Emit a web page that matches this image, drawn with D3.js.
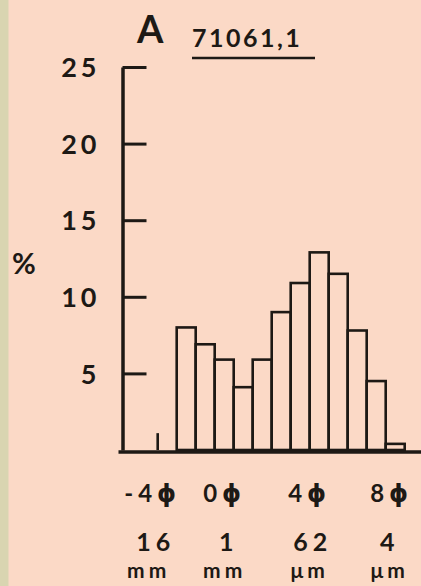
<!DOCTYPE html>
<html>
<head>
<meta charset="utf-8">
<script src="https://cdn.jsdelivr.net/npm/d3@7/dist/d3.min.js"></script>
<style>
  html, body { margin: 0; padding: 0; background: #fbd9c6; }
  svg { display: block; }
  text { font-family: Lato, "DejaVu Sans", sans-serif; fill: #1d1915; }
</style>
</head>
<body>
<svg id="chart" width="421" height="586"></svg>
<script>
// Grain-size histogram, sample 71061,1 (percent per 1-phi class)
const binStartPhi = [-3, -2, -1, 0, 1, 2, 3, 4, 5, 6, 7, 8];
const percentValues = [8, 6.9, 5.9, 4.1, 5.9, 9, 10.9, 12.9, 11.5, 7.8, 4.5, 0.4];
const tracePhi = [-4];
const traceValues = [1.1];
const yTickValues = [5, 10, 15, 20, 25];
const phiTicks = [-4, 0, 4, 8];
const phiNumbers = ["-4", "0", "4", "8"];
const phiSymbol = "ϕ";
const sizeLabels = ["16", "1", "62", "4"];
const sizeUnits = ["mm", "mm", "μm", "μm"];

const W = 421, H = 586;
const ink = "#1d1915";
const svg = d3.select("#chart");

// paper background with the greenish edge strip on the left
svg.append("rect").attr("width", W).attr("height", H).attr("fill", "#fbd9c6");
svg.append("rect").attr("width", 8.5).attr("height", H).attr("fill", "#d9d5b1");

const x = d3.scaleLinear().domain([-4, 9]).range([157.7, 404.7]);
const y = d3.scaleLinear().domain([0, 25]).range([450, 67]);
const axisX = 122.5;

// y axis: ticks point into the plot, labels sit to the left
const yAxis = d3.axisLeft(y)
  .tickValues(yTickValues)
  .tickSizeInner(-24)
  .tickSizeOuter(0)
  .tickPadding(22);
const gy = svg.append("g").attr("transform", `translate(${axisX},0)`).call(yAxis);
gy.selectAll("path.domain").attr("stroke", ink).attr("stroke-width", 3.5);
gy.selectAll(".tick line").attr("stroke", ink).attr("stroke-width", 3);
gy.selectAll(".tick text")
  .attr("fill", ink)
  .style("font-size", "27px")
  .style("font-weight", "700")
  .style("letter-spacing", "4px")
  .attr("dy", "0.36em");

// percent sign
svg.append("text").attr("x", 24).attr("y", 274)
  .attr("text-anchor", "middle")
  .style("font-size", "29px").style("font-weight", "700")
  .text("%");

// histogram bars
svg.append("g").selectAll("rect")
  .data(binStartPhi)
  .join("rect")
  .attr("x", d => x(d))
  .attr("width", d => x(d + 1) - x(d))
  .attr("y", (d, i) => y(percentValues[i]))
  .attr("height", (d, i) => y(0) - y(percentValues[i]))
  .attr("fill", "none")
  .attr("stroke", ink)
  .attr("stroke-width", 2.6);

// trace class drawn as a single stroke
svg.append("g").selectAll("line")
  .data(tracePhi)
  .join("line")
  .attr("x1", d => x(d)).attr("x2", d => x(d))
  .attr("y1", y(0)).attr("y2", (d, i) => y(traceValues[i]))
  .attr("stroke", ink).attr("stroke-width", 2.6);

// baseline
svg.append("line")
  .attr("x1", axisX - 4).attr("x2", W)
  .attr("y1", y(0) + 2).attr("y2", y(0) + 2)
  .attr("stroke", ink).attr("stroke-width", 3.5);

// phi scale labels and equivalent sizes
const rowNudge1 = [-5, -9, 0, 6];
const rowNudge2 = [-2, -5, 3, 4];
const unitNudge = [-9, -9, 0, 4];
const lab = svg.append("g");
const phiText = lab.selectAll("text.phi").data(phiTicks).join("text")
  .attr("class", "phi")
  .attr("x", (d, i) => x(d) + rowNudge1[i]).attr("y", 502)
  .attr("text-anchor", "middle")
  .style("font-size", "24px").style("font-weight", "700").style("letter-spacing", "5px");
phiText.append("tspan").text((d, i) => phiNumbers[i]);
phiText.append("tspan")
  .style("font-family", "'DejaVu Sans', sans-serif")
  .style("font-size", "24px")
  .text(phiSymbol);
lab.selectAll("text.size").data(phiTicks).join("text")
  .attr("class", "size")
  .attr("x", (d, i) => x(d) + rowNudge2[i]).attr("y", 551)
  .attr("text-anchor", "middle")
  .style("font-size", "25px").style("font-weight", "700").style("letter-spacing", "5px")
  .text((d, i) => sizeLabels[i]);
lab.selectAll("text.unit").data(phiTicks).join("text")
  .attr("class", "unit")
  .attr("x", (d, i) => x(d) + unitNudge[i]).attr("y", 578)
  .attr("text-anchor", "middle")
  .style("font-size", "21px").style("font-weight", "700").style("letter-spacing", "4px")
  .text((d, i) => sizeUnits[i]);

// panel letter and sample number
svg.append("text").attr("x", 137).attr("y", 43)
  .style("font-size", "38px").style("font-weight", "700")
  .text("A");
svg.append("text").attr("x", 192).attr("y", 47)
  .style("font-size", "25px").style("font-weight", "700").style("letter-spacing", "2.5px")
  .text("71061,1");
svg.append("line").attr("x1", 192).attr("x2", 315).attr("y1", 58).attr("y2", 58)
  .attr("stroke", ink).attr("stroke-width", 2.5);
</script>
</body>
</html>
